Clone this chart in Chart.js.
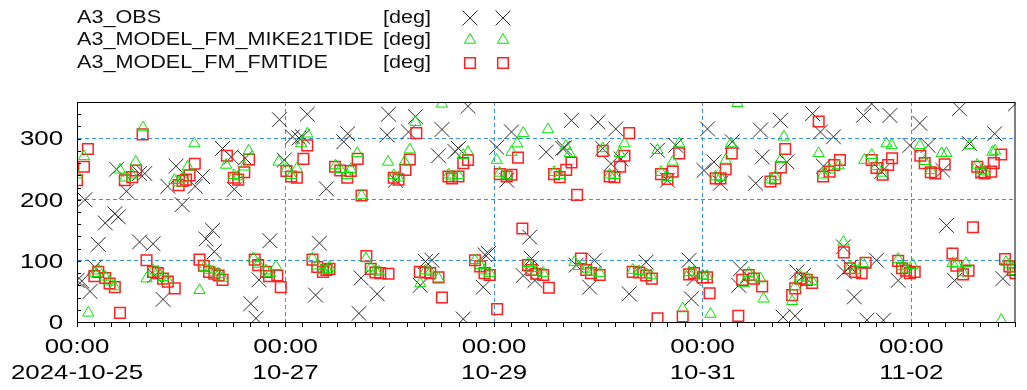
<!DOCTYPE html>
<html>
<head>
<meta charset="utf-8">
<script src="https://cdn.jsdelivr.net/npm/chart.js@4/dist/chart.umd.min.js"></script>
<style>
  html, body { margin: 0; padding: 0; background: #fff; }
  #wrap { position: relative; width: 1027px; height: 390px; }
</style>
</head>
<body>
<div id="wrap"><canvas id="c" width="1027" height="390"></canvas></div>
<script>
// hours since 2024-10-25 00:00, direction in deg
const seriesNames = ['A3_OBS', 'A3_MODEL_FM_MIKE21TIDE', 'A3_MODEL_FM_FMTIDE']
const unitLabel = '[deg]'
const tickHours = [0, 48, 96, 144, 192]
const tickDates = ['2024-10-25', '10-27', '10-29', '10-31', '11-02']
const yLabels = [0, 100, 200, 300]

const obs = [
  [0,68],[1.1,67],[1.8,200],[3,50],[4.1,90],[4.9,127],[6.5,162],[8.7,177],[9.1,250],[9.5,172],
  [11.4,214],[14.4,243],[14.4,131],[15.6,243],[17.5,128],[17.9,76],[19.8,37],[20.9,222],[22.8,255],[24.2,192],
  [27.2,222],[28.9,238],[29.7,136],[31.2,150],[31.6,115],[33.5,284],[35.5,270],[36.2,217],[38.7,268],
  [40,30],[41.2,6],[41.9,69],[44.4,133],[46.6,331],[47.7,265],[49.6,303],[51.1,301],[51.9,303],
  [53,340],[54.9,44],[55.8,129],[57.4,218],[61.4,295],[62.3,308],[64.9,14],[65.4,72],[69.1,46],
  [71.4,306],[71.7,340],[73.3,232],[76.3,311],[77.9,336],[79,60],[80.2,99],[81.7,101],[83.2,272],
  [84,315],[87,279],[87.8,284],[88.9,5],[90,353],[93.5,57],[93.9,110],[94.7,112],[96.6,286],
  [98.9,232],[100,311],[102.7,76],[104.2,139],[104.6,104],[105.4,68],[108,278],[111.8,284],
  [112.2,285],[113.8,330],[114.9,93],[118,57],[119.1,101],[119.9,327],[121,284],[122.9,259],
  [124,316],[125.2,267],[127.1,46],[131,98],[133.6,281],[135.9,232],[137.8,289],[140.9,101],
  [141.4,38],[142,71],[144.3,248],[145.1,316],[146.6,262],[148.1,227],[150.8,295],[152.3,60],
  [152.7,87],[156.2,227],[157.3,314],[157.7,270],[161.9,330],[162.5,8],[163.4,262],[165.3,10],
  [165.7,82],[167.2,76],[169.3,341],[171.1,311],[171.8,255],[174.1,303],[176.4,123],[176.6,82],
  [177.9,90],[178.9,41],[181,338],[181.8,3],[182.9,357],[184,101],[185.2,246],[185.6,3],
  [187.1,338],[189,68],[191.7,289],[194,325],[195.9,289],[199.3,248],[200.1,158],[202,68],
  [203.1,349],[205.4,292],[208.5,246],[211.2,308],[213.1,71],[216,357]
]

const mike21 = [
  [0,241],[1.6,271],[2.6,15],[4.1,80],[5,84],[6.5,74],[7.5,66],[8.6,58],[9.9,249],[11,236],
  [12.6,241],[13.5,262],[15.2,318],[16,71],[17.5,84],[18.6,82],[19.8,73],[20.9,68],[22.4,232],
  [23.4,228],[24.4,235],[25.5,254],[27,292],[28.2,52],[29.3,90],[30.4,85],[31.6,81],[32.6,78],
  [33.5,72],[34.3,257],[36.1,240],[37.1,238],[38.5,254],[39.5,280],[40.6,104],[41.7,95],[43.5,84],
  [44.4,80],[45.8,91],[46.4,262],[48.2,251],[49.3,240],[50.6,251],[51.6,292],[53,308],[54.2,104],
  [55.3,92],[56.6,85],[57.6,86],[58.1,90],[59.5,256],[60.6,250],[62.2,240],[63,250],[64.5,276],
  [65.5,207],[66.5,104],[67.6,89],[68.7,84],[69.5,82],[71.6,262],[72.9,240],[74,236],[75.4,262],
  [76.6,282],[77.9,327],[79,63],[80.2,84],[81.3,82],[83.2,71],[84,357],[85.5,241],[86.3,238],
  [87.8,240],[88.9,273],[90,278],[91.6,101],[92.8,93],[93.8,84],[95,80],[96.6,265],[97.3,244],
  [98.9,240],[100,278],[101.3,292],[102.7,309],[103.8,96],[104.6,88],[105.7,82],[107.3,80],
  [108.4,315],[109.8,245],[111.1,240],[112.5,288],[113.4,276],[114.5,98],[115.5,91],[117.2,87],
  [118.3,82],[120.3,80],[121,284],[122.6,241],[123.7,240],[124.9,276],[126,292],[127.9,85],
  [129.4,83],[131,78],[132.1,76],[133.6,281],[134.4,245],[135.9,237],[137.1,262],[138.6,292],
  [139.4,22],[140.9,81],[142,82],[144,76],[145,75],[145.8,13],[147,238],[148.1,237],[149.3,265],
  [150.5,292],[152,358],[153.5,63],[154.6,80],[155.8,74],[157.3,71],[158,38],[159.6,233],
  [160.7,238],[162,266],[162.7,303],[164.6,34],[165.3,58],[166.5,74],[168,72],[169.2,67],
  [170.7,276],[171.7,241],[173.2,249],[175.3,256],[176.4,131],[177.9,91],[179.1,85],[180.9,96],
  [181.2,265],[182.9,273],[184,255],[185.4,244],[186.3,292],[187.5,289],[189,103],[189.9,91],
  [190.8,87],[192.3,93],[194,289],[195.1,263],[196.5,248],[199,276],[200.1,276],[201.5,96],
  [202.4,95],[203.9,81],[204.6,96],[205.4,289],[207.2,257],[208.1,248],[208.9,246],[210.7,278],
  [211.3,280],[212.7,3],[213.8,98],[214.6,94],[215.4,88],[216,83]
]

const fmtide = [
  [0,232],[1.6,254],[2.5,283],[4,75],[4.9,82],[6.5,72],[7.5,63],[8.7,57],[9.9,15],[11,232],
  [12.7,237],[13.6,248],[15.1,307],[16,101],[17.5,82],[18.6,80],[19.8,71],[20.9,66],[22.5,55],
  [23.4,224],[24.3,231],[25.1,233],[25.9,240],[27.1,259],[28.2,102],[29.2,92],[30.4,82],[31.6,79],
  [32.6,76],[33.5,69],[34.5,272],[36.1,236],[37.1,233],[38.5,245],[39.6,266],[40.9,102],[41.7,93],
  [43.5,82],[44.2,75],[46.1,76],[46.9,57],[48.2,247],[49.3,238],[50.6,236],[52.1,267],[53,289],
  [54.2,102],[55.3,90],[56.6,82],[57.4,85],[58.1,87],[59.4,254],[60.6,248],[62.2,236],[63,247],
  [64.6,267],[65.5,207],[66.6,108],[67.6,87],[68.7,81],[69.8,80],[71.7,79],[72.9,236],[74,233],
  [75.6,249],[76.6,266],[78.1,309],[78.9,82],[80.2,81],[81.3,80],[83.2,73],[84,40],[85.5,238],
  [86.3,235],[87.8,238],[88.9,260],[90,265],[91.6,101],[92.8,91],[93.8,80],[95,77],[96.7,21],
  [97.3,242],[98.9,238],[100,241],[101.5,269],[102.5,153],[103.8,93],[104.6,85],[105.7,79],
  [107.3,77],[108.6,56],[109.8,242],[111.1,237],[112.6,249],[113.8,261],[115.1,208],[116,104],
  [117.2,85],[118.3,80],[120.3,77],[121,280],[122.6,238],[123.7,237],[125,254],[126,272],
  [127.1,309],[127.9,82],[129.4,81],[131,76],[132.3,71],[133.6,6],[134.4,242],[135.9,234],
  [137.1,246],[138.6,276],[139.4,9],[140.9,78],[142,80],[144,73],[145,73],[145.6,47],[147,235],
  [148.1,235],[149.3,250],[150.7,276],[152.2,10],[153.1,69],[154.6,77],[155.8,71],[157.7,58],
  [159.6,230],[160.7,235],[162,253],[163,283],[164.6,44],[165.3,55],[166.5,71],[168,69],[169.2,64],
  [170.7,328],[171.7,238],[173.2,246],[174.3,257],[175.6,265],[176.5,114],[177.9,88],[179.1,82],
  [180.6,80],[181.5,97],[182.9,265],[184,252],[185.4,241],[186.7,257],[187.6,268],[189,100],
  [189.9,88],[190.8,84],[191.7,80],[192.8,82],[194.1,272],[195.1,260],[196.5,245],[197.5,243],
  [199.7,258],[201.5,112],[202.4,92],[203.9,78],[205.2,84],[206.2,155],[207.2,254],[208.1,245],
  [208.9,243],[210.4,246],[211,260],[212.7,274],[213.6,103],[214.6,91],[215.4,85],[216,80]
]

const FONT = '"Liberation Sans", Arial, sans-serif'
const GRID_BLUE = '#3390ee'
const STRETCH = 1.23   // the reference text is drawn wide
const toXY = arr => arr.map(([x, y]) => ({ x, y }))

const styles = [
  { pointStyle: 'crossRot', radius: 10.5, borderColor: '#2a2a2a', borderWidth: 1 },
  { pointStyle: 'triangle', radius: 6.5, borderColor: '#00e600', borderWidth: 1 },
  { pointStyle: 'rect', radius: 7.5, borderColor: '#ff2020', borderWidth: 1.5 }
]

function wideText(ctx, text, x, y, align, sx) {
  ctx.save()
  ctx.translate(x, y)
  ctx.scale(sx || STRETCH, 1)
  ctx.textAlign = align
  ctx.fillText(text, 0, 0)
  ctx.restore()
}

// legend, frame, inner y ticks and wide tick labels
const decor = {
  id: 'decor',
  afterDraw(chart) {
    const { ctx, chartArea: a, scales: { x, y } } = chart
    ctx.save()
    ctx.strokeStyle = '#000'
    ctx.lineWidth = 1
    ctx.strokeRect(a.left + 0.5, a.top + 0.5, a.right - a.left - 1, a.bottom - a.top)
    ctx.beginPath()
    for (let v = 20; v < 360; v += 20) {
      const py = Math.round(y.getPixelForValue(v)) + 0.5
      ctx.moveTo(a.left, py)
      ctx.lineTo(a.left + 4, py)
    }
    ctx.stroke()

    ctx.fillStyle = '#000'
    ctx.textBaseline = 'middle'
    ctx.font = '21px ' + FONT
    yLabels.forEach(v => wideText(ctx, String(v), 63, y.getPixelForValue(v) + 1, 'right'))
    tickHours.forEach((h, i) => {
      const px = x.getPixelForValue(h)
      wideText(ctx, '00:00', px, 347, 'center')
      wideText(ctx, tickDates[i], px, 373, 'center')
    })

    ctx.font = '18px ' + FONT
    const rows = [18, 40, 63]
    seriesNames.forEach((name, i) => {
      ctx.fillStyle = '#111'
      wideText(ctx, name, 77, rows[i], 'left', 1.2)
      wideText(ctx, unitLabel, 383, rows[i], 'left', 1.2)
      const s = styles[i]
      ctx.strokeStyle = s.borderColor
      ctx.fillStyle = 'rgba(0,0,0,0)'
      ctx.lineWidth = s.borderWidth
      ;[470, 503].forEach(px => {
        Chart.helpers.drawPoint(ctx, { pointStyle: s.pointStyle, radius: s.radius, rotation: 0, borderWidth: s.borderWidth }, px, rows[i])
      })
    })
    ctx.restore()
  }
}

new Chart(document.getElementById('c'), {
  type: 'scatter',
  data: {
    datasets: [
      { label: seriesNames[2], data: toXY(fmtide), order: 2, backgroundColor: 'rgba(0,0,0,0)', pointStyle: styles[2].pointStyle, pointRadius: styles[2].radius, borderColor: styles[2].borderColor, borderWidth: styles[2].borderWidth },
      { label: seriesNames[1], data: toXY(mike21), order: 1, backgroundColor: 'rgba(0,0,0,0)', pointStyle: styles[1].pointStyle, pointRadius: styles[1].radius, borderColor: styles[1].borderColor, borderWidth: styles[1].borderWidth },
      { label: seriesNames[0], data: toXY(obs), order: 3, backgroundColor: 'rgba(0,0,0,0)', pointStyle: styles[0].pointStyle, pointRadius: styles[0].radius, borderColor: styles[0].borderColor, borderWidth: styles[0].borderWidth }
    ]
  },
  options: {
    responsive: false,
    animation: false,
    devicePixelRatio: 1,
    layout: { padding: { top: 102, right: 8, left: 0, bottom: 0 } },
    plugins: { legend: { display: false }, tooltip: { enabled: false } },
    scales: {
      x: {
        type: 'linear', min: 0, max: 216,
        afterFit: s => { s.height = 68 },
        afterBuildTicks: s => {
          const t = []
          for (let h = 0; h <= 216; h += 4) t.push({ value: h })
          s.ticks = t
        },
        ticks: { autoSkip: false, maxRotation: 0, callback: () => '' },
        grid: {
          color: c => (c.tick && tickHours.includes(c.tick.value) && c.tick.value > 0) ? GRID_BLUE : 'rgba(0,0,0,0)',
          tickColor: '#000', tickLength: 5, lineWidth: 1
        },
        border: { display: true, color: '#000', dash: [4, 3] }
      },
      y: {
        min: 0, max: 360,
        afterFit: s => { s.width = 77 },
        afterBuildTicks: s => { s.ticks = yLabels.map(v => ({ value: v })) },
        ticks: { callback: () => '' },
        grid: {
          color: c => (c.tick && c.tick.value > 0) ? GRID_BLUE : 'rgba(0,0,0,0)',
          drawTicks: false, lineWidth: 1
        },
        border: { display: true, color: '#000', dash: [4, 3] }
      }
    }
  },
  plugins: [decor]
})
</script>
</body>
</html>
